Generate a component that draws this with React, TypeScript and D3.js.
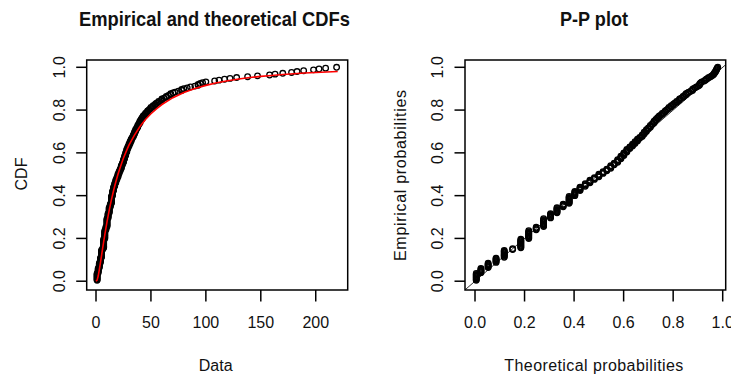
import React from 'react';
import * as d3 from 'd3';

// Observed (integer) data values, how many times each occurs, and the fitted CDF at each value
const dataValues = [
  1, 2, 3, 4, 5, 6, 7, 8, 9, 10,
  11, 12, 13, 14, 15, 16, 17, 18, 19, 20,
  21, 22, 23, 24, 25, 26, 27, 28, 29, 30,
  31, 32, 33, 34, 35, 36, 37, 38, 39, 40,
  41, 42, 43, 44, 45, 46, 47, 48, 49, 50,
  52, 54, 55, 57, 59, 60, 62, 64, 66, 68,
  70, 72, 75, 78, 80, 83, 86, 90, 93, 95,
  97, 100,
  108, 112, 117, 122, 128, 138, 147, 158, 163, 170, 178, 183, 189, 198, 203, 209, 219,
];
const dataCounts = [
  9, 6, 6, 6, 9, 2, 11, 10, 4, 10,
  6, 7, 4, 9, 6, 5, 4, 4, 3, 4,
  3, 3, 4, 3, 4, 4, 4, 4, 3, 3,
  3, 3, 2, 3, 3, 3, 2, 3, 2, 3,
  2, 2, 2, 1, 2, 1, 2, 1, 1, 2,
  2, 2, 1, 2, 1, 2, 1, 2, 1, 2,
  1, 1, 1, 2, 1, 1, 1, 1, 2, 1,
  1, 1,
  1, 1, 1, 1, 1, 1, 1, 1, 1, 1, 1, 1, 1, 1, 1, 1, 1,
];
const theoreticalProbs = [
  0.005, 0.024, 0.053, 0.085, 0.118, 0.152, 0.185, 0.217, 0.247, 0.277,
  0.305, 0.331, 0.356, 0.38, 0.403, 0.424, 0.445, 0.464, 0.482, 0.5,
  0.517, 0.532, 0.548, 0.562, 0.576, 0.589, 0.601, 0.613, 0.625, 0.636,
  0.646, 0.656, 0.665, 0.675, 0.683, 0.692, 0.7, 0.708, 0.716, 0.723,
  0.73, 0.737, 0.744, 0.75, 0.756, 0.762, 0.768, 0.773, 0.778, 0.783,
  0.792, 0.801, 0.806, 0.814, 0.822, 0.826, 0.833, 0.84, 0.846, 0.852,
  0.858, 0.863, 0.871, 0.878, 0.882, 0.888, 0.894, 0.901, 0.906, 0.909,
  0.912, 0.916,
  0.925, 0.93, 0.934, 0.939, 0.944, 0.951, 0.956, 0.961, 0.964, 0.966, 0.969, 0.971, 0.973, 0.975, 0.976, 0.978, 0.98,
];

// Fitted (theoretical) CDF curve
const curveX = [0, 1, 2, 3, 4, 5, 6, 7, 8, 9, 10, 12, 14, 16, 18, 20, 22, 25, 28, 30, 35, 40, 45, 50, 55, 60, 70, 80, 90, 100, 110, 120, 130, 140, 150, 160, 170, 180, 190, 200, 210, 220];
const curveF = [0, 0.005, 0.024, 0.053, 0.085, 0.118, 0.152, 0.185, 0.217, 0.247, 0.277, 0.331, 0.38, 0.424, 0.464, 0.5, 0.532, 0.576, 0.613, 0.636, 0.683, 0.723, 0.756, 0.783, 0.806, 0.826, 0.858, 0.882, 0.901, 0.9155, 0.9275, 0.937, 0.945, 0.952, 0.9575, 0.962, 0.966, 0.97, 0.973, 0.9755, 0.978, 0.98];

const dataTicks = [0, 50, 100, 150, 200];
const probTicks = [0, 0.2, 0.4, 0.6, 0.8, 1.0];

const titleLeft = 'Empirical and theoretical CDFs';
const titleRight = 'P-P plot';
const xLabelLeft = 'Data';
const yLabelLeft = 'CDF';
const xLabelRight = 'Theoretical probabilities';
const yLabelRight = 'Empirical probabilities';

const SANS = "'Liberation Sans', Arial, Helvetica, sans-serif";
const NARROW = "'Liberation Sans Narrow', 'Arial Narrow', 'Liberation Sans', Arial, sans-serif";

export default function App() {
  const n = d3.sum(dataCounts);
  const obs: { x: number; p: number; y: number }[] = [];
  let k = 0;
  dataValues.forEach((v, i) => {
    for (let j = 0; j < dataCounts[i]; j++) {
      k += 1;
      obs.push({ x: v, p: theoreticalProbs[i], y: k / n });
    }
  });

  // panel geometry
  const L = { left: 86.7, right: 347.7, top: 60, bottom: 290 };
  const R = { left: 465, right: 725.7, top: 60, bottom: 290 };

  const xL = d3.scaleLinear().domain([-8.47, 229.1]).range([L.left, L.right]);
  const yScale = d3.scaleLinear().domain([-0.0411, 1.0341]).range([L.bottom, L.top]);
  const xR = d3.scaleLinear().domain([-0.0404, 1.0121]).range([R.left, R.right]);

  const curve = d3
    .line<number>()
    .x((_, i) => xL(curveX[i]))
    .y((d) => yScale(d))(curveF) || '';

  const tickLen = 10.5;
  const sw = 1.5;

  const yAxis = (left: number, keyp: string) =>
    probTicks.map((t) => (
      <g key={keyp + t}>
        <line x1={left - tickLen} x2={left} y1={yScale(t)} y2={yScale(t)} stroke="#000" strokeWidth={sw} />
        <text
          transform={`translate(${left - 21.7},${yScale(t)}) rotate(-90)`}
          textAnchor="middle"
          fontFamily={SANS}
          fontSize={16}
          fill="#111"
        >
          {t.toFixed(1)}
        </text>
      </g>
    ));

  return (
    <svg
      width={731}
      height={376}
      style={{ position: 'absolute', left: 0, top: 0, background: '#fff' }}
      xmlns="http://www.w3.org/2000/svg"
    >
      <defs>
        <clipPath id="clipL">
          <rect x={L.left} y={L.top} width={L.right - L.left} height={L.bottom - L.top} />
        </clipPath>
        <clipPath id="clipR">
          <rect x={R.left} y={R.top} width={R.right - R.left} height={R.bottom - R.top} />
        </clipPath>
      </defs>
      <rect x={0} y={0} width={731} height={376} fill="#fff" />

      {/* Left panel */}
      <text x={214.5} y={26} textAnchor="middle" fontFamily={NARROW} fontWeight="bold" fontSize={21} textLength={271} lengthAdjust="spacingAndGlyphs" fill="#111">
        {titleLeft}
      </text>
      <g clipPath="url(#clipL)">
        {obs.map((d, i) => (
          <circle key={'l' + i} cx={xL(d.x)} cy={yScale(d.y)} r={2.8} fill="none" stroke="#000" strokeWidth={1.3} />
        ))}
        <path d={curve} fill="none" stroke="#ff0000" strokeWidth={1.6} />
      </g>
      <rect x={L.left} y={L.top} width={L.right - L.left} height={L.bottom - L.top} fill="none" stroke="#000" strokeWidth={sw} />
      {dataTicks.map((t) => (
        <g key={'xl' + t}>
          <line x1={xL(t)} x2={xL(t)} y1={L.bottom} y2={L.bottom + tickLen + 1} stroke="#000" strokeWidth={sw} />
          <text x={xL(t)} y={328} textAnchor="middle" fontFamily={SANS} fontSize={16} fill="#111">
            {t}
          </text>
        </g>
      ))}
      {yAxis(L.left, 'yl')}
      <text x={215.7} y={370.7} textAnchor="middle" fontFamily={SANS} fontSize={16} fill="#111">
        {xLabelLeft}
      </text>
      <text transform={`translate(26.5,174) rotate(-90)`} textAnchor="middle" fontFamily={SANS} fontSize={16} fill="#111">
        {yLabelLeft}
      </text>

      {/* Right panel */}
      <text x={594} y={26} textAnchor="middle" fontFamily={NARROW} fontWeight="bold" fontSize={21} textLength={68} lengthAdjust="spacingAndGlyphs" fill="#111">
        {titleRight}
      </text>
      <g clipPath="url(#clipR)">
        <line x1={xR(-0.05)} y1={yScale(-0.05)} x2={xR(1.05)} y2={yScale(1.05)} stroke="#333" strokeWidth={1} />
        {obs.map((d, i) => (
          <circle key={'r' + i} cx={xR(d.p)} cy={yScale(d.y)} r={2.8} fill="none" stroke="#000" strokeWidth={1.3} />
        ))}
      </g>
      <rect x={R.left} y={R.top} width={R.right - R.left} height={R.bottom - R.top} fill="none" stroke="#000" strokeWidth={sw} />
      {probTicks.map((t) => (
        <g key={'xr' + t}>
          <line x1={xR(t)} x2={xR(t)} y1={R.bottom} y2={R.bottom + tickLen + 1} stroke="#000" strokeWidth={sw} />
          <text x={xR(t)} y={328} textAnchor="middle" fontFamily={SANS} fontSize={16} fill="#111">
            {t.toFixed(1)}
          </text>
        </g>
      ))}
      {yAxis(R.left, 'yr')}
      <text x={593.8} y={370.7} textAnchor="middle" fontFamily={SANS} fontSize={16} textLength={179} lengthAdjust="spacing" fill="#111">
        {xLabelRight}
      </text>
      <text transform={`translate(405.5,175.5) rotate(-90)`} textAnchor="middle" fontFamily={SANS} fontSize={16} textLength={171} lengthAdjust="spacing" fill="#111">
        {yLabelRight}
      </text>
    </svg>
  );
}
